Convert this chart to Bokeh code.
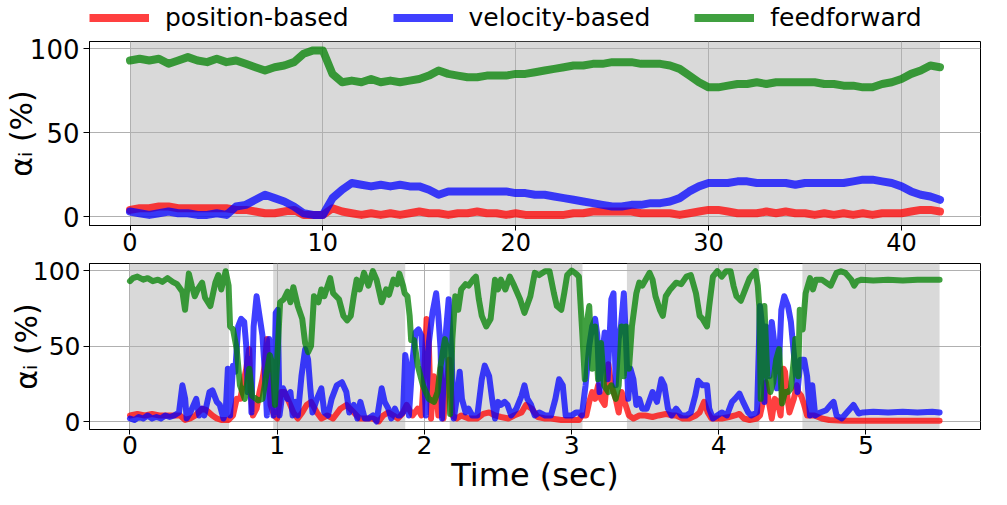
from bokeh.plotting import figure
from bokeh.layouts import column
from bokeh.models import FixedTicker, Range1d, Legend
from bokeh.embed import file_html
from bokeh.resources import INLINE

FONT = "DejaVu Sans"
RED, BLUE, GREEN = "#ff0000", "#0000ff", "#008000"
ALPHA = 0.75
SHADE = "#d9d9d9"
GRID = "#b0b0b0"

SERIES_NAMES = ["position-based", "velocity-based", "feedforward"]
Y_TICKS = [0, 50, 100]
TOP_X_TICKS = [0, 10, 20, 30, 40]
BOT_X_TICKS = [0, 1, 2, 3, 4, 5]
Y_LABEL = "\u03b1\u1d62 (%)"
X_LABEL = "Time (sec)"

# ---------------- top panel (long run, 0..42 s) ----------------
t_top = [0, 0.5, 1, 1.5, 2, 2.5, 3, 3.5, 4, 4.5,
         5, 5.5, 6, 6.5, 7, 7.5, 8, 8.5, 9, 9.5,
         10, 10.5, 11, 11.5, 12, 12.5, 13, 13.5, 14, 14.5,
         15, 15.5, 16, 16.5, 17, 17.5, 18, 18.5, 19, 19.5,
         20, 20.5, 21, 21.5, 22, 22.5, 23, 23.5, 24, 24.5,
         25, 25.5, 26, 26.5, 27, 27.5, 28, 28.5, 29, 29.5,
         30, 30.5, 31, 31.5, 32, 32.5, 33, 33.5, 34, 34.5,
         35, 35.5, 36, 36.5, 37, 37.5, 38, 38.5, 39, 39.5,
         40, 40.5, 41, 41.5, 42]
pos_top = [4, 5, 5, 6, 6, 5, 5, 5, 5, 5,
           5, 4, 4, 3, 2, 2, 3, 4, 1, 1,
           1, 5, 3, 2, 1, 2, 1, 2, 1, 2,
           3, 2, 2, 1, 2, 2, 3, 2, 2, 1,
           2, 1, 1, 1, 1, 1, 2, 2, 3, 3,
           3, 3, 3, 2, 2, 2, 2, 1, 2, 3,
           4, 4, 3, 2, 2, 2, 3, 2, 3, 2,
           2, 1, 2, 1, 2, 1, 2, 1, 2, 2,
           2, 3, 4, 4, 3]
vel_top = [3, 2, 1, 2, 3, 2, 2, 1, 1, 2,
           1, 6, 7, 10, 13, 11, 9, 6, 2, 1,
           1, 11, 16, 20, 19, 18, 19, 18, 19, 18,
           18, 16, 13, 15, 15, 15, 15, 15, 15, 15,
           14, 14, 13, 13, 12, 11, 10, 9, 8, 7,
           6, 6, 7, 7, 8, 8, 9, 11, 15, 18,
           20, 20, 20, 21, 21, 20, 20, 20, 20, 19,
           20, 20, 20, 20, 20, 21, 22, 22, 21, 20,
           18, 15, 13, 12, 10]
ff_top = [93, 94, 93, 94, 91, 93, 95, 93, 92, 94,
          92, 93, 91, 89, 87, 89, 90, 92, 97, 99,
          99, 85, 80, 81, 80, 82, 80, 81, 80, 81,
          82, 84, 87, 85, 84, 83, 83, 84, 84, 84,
          85, 85, 86, 87, 88, 89, 90, 90, 91, 91,
          92, 92, 92, 91, 91, 91, 90, 88, 84, 80,
          77, 77, 78, 79, 79, 80, 79, 80, 80, 80,
          80, 80, 79, 79, 78, 78, 77, 77, 79, 80,
          82, 85, 87, 90, 89]
top_shade_start = [0]
top_shade_end = [42]

# ---------------- bottom panel (short run, 0..5.5 s) ----------------
pos_bot_pts = [(0, 4), (0.05, 5), (0.10, 4), (0.15, 5), (0.20, 4), (0.25, 4), (0.31, 4), (0.34, 4),
               (0.375, 1), (0.41, 2), (0.445, 4), (0.49, 8.5), (0.52, 7.5), (0.56, 4), (0.59, 2),
               (0.62, 1), (0.67, 1), (0.70, 4), (0.725, 15), (0.75, 15), (0.77, 26), (0.79, 35),
               (0.81, 48), (0.82, 19.5), (0.835, 4), (0.86, 8.5), (0.88, 19.5), (0.90, 28),
               (0.915, 37), (0.93, 54.6), (0.94, 35), (0.955, 11), (0.98, 4), (1.0, 2),
               (1.025, 19.5), (1.05, 19.5), (1.08, 13), (1.11, 6), (1.14, 2), (1.17, 6), (1.20, 11),
               (1.23, 13), (1.27, 6), (1.30, 2), (1.34, 4), (1.38, 2), (1.43, 8.5), (1.47, 11),
               (1.52, 6), (1.56, 2), (1.61, 2), (1.65, 2), (1.69, 0), (1.72, 4), (1.755, 6),
               (1.79, 4), (1.82, 2), (1.85, 5), (1.88, 11), (1.92, 4), (1.955, 8.5), (1.98, 4),
               (2.0, 35), (2.015, 68), (2.03, 52), (2.045, 2), (2.065, 30), (2.08, 19.5),
               (2.095, 4), (2.11, 35), (2.13, 2), (2.15, 24), (2.17, 41), (2.19, 4), (2.22, 2),
               (2.25, 4), (2.30, 2), (2.36, 2), (2.40, 5), (2.44, 6), (2.48, 4), (2.52, 3),
               (2.57, 2), (2.61, 4), (2.66, 6), (2.69, 11), (2.73, 8.5), (2.77, 3), (2.82, 2),
               (2.86, 2), (2.93, 1), (3.0, 1), (3.05, 1), (3.07, 4), (3.10, 4), (3.12, 13),
               (3.14, 19.5), (3.16, 15), (3.18, 24), (3.20, 15), (3.225, 11), (3.25, 38),
               (3.27, 24), (3.30, 15), (3.32, 6), (3.34, 19.5), (3.36, 13), (3.39, 4), (3.42, 2),
               (3.46, 4), (3.50, 4), (3.55, 3), (3.59, 4), (3.64, 5), (3.68, 4), (3.71, 4),
               (3.755, 2), (3.80, 2), (3.845, 4), (3.87, 6), (3.90, 13), (3.925, 6), (3.95, 2),
               (3.98, 2), (4.02, 2), (4.07, 3), (4.11, 4), (4.14, 5), (4.17, 2), (4.21, 1),
               (4.26, 2), (4.28, 4), (4.30, 13), (4.32, 26), (4.34, 13), (4.36, 2), (4.38, 15),
               (4.40, 13), (4.42, 4), (4.44, 35), (4.45, 33), (4.47, 13), (4.48, 6), (4.51, 15),
               (4.53, 24), (4.54, 19.5), (4.56, 17), (4.58, 11), (4.60, 4), (4.65, 4), (4.70, 2),
               (4.75, 1), (4.85, 0.5), (5.0, 0.5), (5.2, 0.5), (5.4, 0.5), (5.5, 0.5)]

vel_bot_pts = [(0, 2), (0.03, 1), (0.06, 3), (0.09, 2), (0.12, 4), (0.15, 2), (0.18, 3), (0.21, 2),
               (0.24, 4), (0.27, 3), (0.30, 4), (0.333, 6), (0.356, 24), (0.375, 15), (0.385, 2),
               (0.41, 6), (0.45, 15), (0.47, 4), (0.49, 8.5), (0.505, 4), (0.54, 19.5),
               (0.56, 20.6), (0.59, 13), (0.61, 11), (0.635, 2), (0.65, 6), (0.665, 35), (0.68, 4),
               (0.70, 37), (0.715, 33), (0.735, 63), (0.755, 68), (0.776, 66), (0.79, 50),
               (0.80, 19.5), (0.815, 41), (0.825, 6), (0.84, 63), (0.86, 83), (0.88, 70),
               (0.90, 57), (0.915, 35), (0.93, 4), (0.945, 54.6), (0.96, 30), (0.975, 4),
               (0.99, 72), (1.004, 74), (1.016, 4), (1.04, 22), (1.07, 15), (1.09, 19.5),
               (1.105, 4), (1.125, 13), (1.14, 4), (1.165, 30), (1.19, 48), (1.21, 41),
               (1.225, 22), (1.24, 6), (1.27, 15), (1.30, 22), (1.32, 6), (1.345, 4), (1.37, 15),
               (1.405, 24), (1.44, 26), (1.47, 19.5), (1.49, 6), (1.52, 11), (1.545, 2),
               (1.565, 13), (1.595, 2), (1.62, 2), (1.65, 4), (1.675, 0), (1.71, 22), (1.73, 13),
               (1.755, 8.5), (1.775, 2), (1.80, 8.5), (1.82, 4), (1.835, 4), (1.855, 6),
               (1.87, 44), (1.885, 35), (1.895, 4), (1.92, 41), (1.94, 59), (1.96, 61), (1.98, 57),
               (2.0, 26), (2.01, 4), (2.03, 52), (2.055, 72), (2.08, 85), (2.095, 70), (2.11, 48),
               (2.12, 2), (2.14, 52), (2.165, 81), (2.185, 41), (2.20, 2), (2.22, 15), (2.24, 33),
               (2.255, 15), (2.28, 6), (2.30, 8.5), (2.325, 4), (2.36, 4), (2.39, 28), (2.41, 37),
               (2.44, 30), (2.46, 15), (2.48, 2), (2.50, 13), (2.52, 11), (2.545, 13),
               (2.565, 11), (2.59, 4), (2.625, 8.5), (2.66, 17), (2.68, 24), (2.70, 15),
               (2.725, 11), (2.75, 4), (2.78, 6), (2.82, 4), (2.86, 4), (2.89, 15), (2.915, 28),
               (2.94, 24), (2.96, 4), (3.0, 4), (3.03, 6), (3.05, 6), (3.07, 4), (3.095, 24),
               (3.12, 50), (3.14, 63), (3.16, 68), (3.175, 57), (3.19, 19.5), (3.21, 46),
               (3.225, 59), (3.245, 28), (3.27, 81), (3.285, 85), (3.30, 24), (3.32, 54.6),
               (3.335, 63), (3.355, 85), (3.37, 52), (3.385, 15), (3.40, 35), (3.42, 28),
               (3.44, 11), (3.46, 15), (3.48, 8.5), (3.51, 8.5), (3.55, 19.5), (3.58, 13),
               (3.61, 28), (3.63, 24), (3.655, 8.5), (3.68, 4), (3.71, 8.5), (3.745, 4), (3.78, 4),
               (3.81, 6), (3.84, 17), (3.86, 27), (3.89, 24), (3.92, 24), (3.935, 8.5), (3.96, 2),
               (3.99, 4), (4.02, 6), (4.055, 4), (4.09, 13), (4.11, 15), (4.14, 18.5), (4.165, 13),
               (4.20, 6), (4.22, 4), (4.26, 6), (4.28, 76.5), (4.295, 63), (4.31, 13), (4.32, 63),
               (4.345, 30), (4.36, 66), (4.38, 50), (4.395, 22), (4.41, 41), (4.425, 74),
               (4.445, 83), (4.47, 76.5), (4.49, 66), (4.505, 50), (4.52, 35), (4.535, 19.5),
               (4.555, 41), (4.58, 41), (4.60, 30), (4.62, 4), (4.635, 24), (4.655, 4), (4.69, 6),
               (4.73, 7.5), (4.76, 11), (4.78, 13), (4.80, 4), (4.835, 2), (4.87, 6), (4.915, 11),
               (4.95, 5.3), (4.98, 6), (5.05, 6.5), (5.15, 6), (5.25, 6.5), (5.35, 6), (5.45, 6.5),
               (5.5, 6)]

ff_bot_pts = [(0, 93), (0.02, 95), (0.05, 96), (0.09, 94), (0.12, 95), (0.155, 93), (0.19, 94),
              (0.22, 92.5), (0.255, 95), (0.29, 92.5), (0.32, 91), (0.356, 86), (0.374, 74),
              (0.40, 98), (0.42, 90), (0.44, 83), (0.46, 87.5), (0.49, 92), (0.51, 82),
              (0.546, 76.5), (0.58, 92), (0.60, 97), (0.62, 87.5), (0.65, 99.6), (0.67, 90),
              (0.68, 63), (0.70, 61), (0.725, 48), (0.747, 24), (0.78, 15), (0.81, 35), (0.83, 17),
              (0.87, 14), (0.90, 15), (0.925, 30), (0.95, 44), (0.97, 37), (0.985, 11), (1.0, 41),
              (1.02, 79), (1.045, 81), (1.07, 86), (1.09, 79), (1.11, 89), (1.14, 76.5),
              (1.17, 68), (1.19, 52), (1.21, 46), (1.23, 50), (1.25, 83), (1.28, 79), (1.30, 87.5),
              (1.32, 83), (1.36, 95), (1.38, 85), (1.42, 81), (1.45, 70), (1.475, 67), (1.50, 70),
              (1.52, 83), (1.54, 94), (1.56, 87.5), (1.59, 98.5), (1.62, 90), (1.65, 99.6),
              (1.675, 94), (1.71, 79), (1.74, 87.5), (1.76, 84), (1.79, 94), (1.815, 91),
              (1.83, 98), (1.855, 90), (1.866, 85), (1.885, 83), (1.90, 70), (1.91, 54),
              (1.93, 54), (1.955, 37), (1.99, 24), (2.03, 15), (2.066, 13), (2.09, 19.5),
              (2.11, 37), (2.14, 54.6), (2.16, 46), (2.175, 5), (2.19, 54.6), (2.21, 83),
              (2.23, 74), (2.25, 87.5), (2.28, 91), (2.30, 90), (2.33, 94), (2.35, 96), (2.37, 81),
              (2.39, 70), (2.42, 63), (2.45, 68), (2.48, 94), (2.50, 87.5), (2.52, 94),
              (2.55, 87.5), (2.58, 96), (2.61, 90), (2.65, 81), (2.68, 72), (2.72, 83),
              (2.75, 98.5), (2.78, 97), (2.82, 99.6), (2.85, 99.6), (2.88, 85), (2.90, 76.5),
              (2.93, 74), (2.95, 85), (2.97, 97), (3.0, 100), (3.03, 98), (3.05, 96), (3.07, 63),
              (3.08, 46), (3.09, 28), (3.10, 63), (3.12, 76.5), (3.14, 35), (3.16, 63), (3.18, 28),
              (3.20, 52), (3.22, 24), (3.25, 19.5), (3.27, 24), (3.30, 15), (3.32, 24), (3.34, 63),
              (3.355, 30), (3.37, 63), (3.39, 35), (3.41, 63), (3.44, 85), (3.46, 92), (3.48, 90),
              (3.53, 98.5), (3.55, 94), (3.57, 83), (3.60, 74), (3.62, 70), (3.64, 83),
              (3.67, 87.5), (3.71, 92), (3.745, 91), (3.78, 96), (3.81, 97), (3.845, 85),
              (3.87, 70), (3.89, 68), (3.92, 63), (3.935, 76.5), (3.96, 96), (3.99, 99.6),
              (4.02, 96), (4.05, 99.6), (4.08, 99.6), (4.10, 90), (4.12, 83), (4.15, 80),
              (4.18, 87.5), (4.21, 95), (4.25, 99.6), (4.265, 90), (4.275, 76.5), (4.285, 15),
              (4.31, 76.5), (4.33, 30), (4.35, 19.5), (4.37, 26), (4.39, 41), (4.41, 48),
              (4.43, 12), (4.45, 19.5), (4.47, 19.5), (4.49, 22), (4.51, 41), (4.52, 54.6),
              (4.54, 30), (4.55, 74), (4.57, 61), (4.59, 85), (4.62, 95), (4.64, 87.5), (4.66, 94),
              (4.70, 94), (4.73, 92), (4.76, 90), (4.80, 98.5), (4.83, 99.6), (4.86, 98.5),
              (4.90, 94), (4.92, 90), (4.94, 93), (4.97, 94), (5.05, 93.5), (5.15, 94),
              (5.25, 93.5), (5.35, 94), (5.45, 94), (5.5, 94)]

bot_shade_start = [0, 0.973, 2.172, 3.376, 4.568]
bot_shade_end = [0.673, 1.87, 3.074, 4.275, 5.5]

t_pos_bot = [a for a, _ in pos_bot_pts]
pos_bot = [b for _, b in pos_bot_pts]
t_vel_bot = [a for a, _ in vel_bot_pts]
vel_bot = [b for _, b in vel_bot_pts]
t_ff_bot = [a for a, _ in ff_bot_pts]
ff_bot = [b for _, b in ff_bot_pts]


def make_fig(xr, yr, xticks, fw, fh, left, right, top, bottom):
    p = figure(x_range=Range1d(*xr), y_range=Range1d(*yr),
               width=left + fw + right, height=top + fh + bottom,
               min_border_left=left, min_border_right=right,
               min_border_top=top, min_border_bottom=bottom,
               output_backend="svg", toolbar_location=None)
    p.background_fill_color = "white"
    p.border_fill_color = "white"
    p.outline_line_color = "black"
    p.outline_line_alpha = 1
    p.outline_line_width = 1
    p.xaxis.ticker = FixedTicker(ticks=xticks)
    p.yaxis.ticker = FixedTicker(ticks=Y_TICKS)
    p.xgrid.ticker = FixedTicker(ticks=xticks)
    p.ygrid.ticker = FixedTicker(ticks=Y_TICKS)
    for g in (p.xgrid[0], p.ygrid[0]):
        g.grid_line_color = GRID
        g.grid_line_width = 1
        g.grid_line_alpha = 1
    for ax in (p.xaxis[0], p.yaxis[0]):
        ax.axis_line_color = "black"
        ax.major_tick_line_color = "black"
        ax.major_tick_in = 0
        ax.minor_tick_line_color = None
        ax.major_label_text_font = FONT
        ax.major_label_text_color = "black"
        ax.axis_label_text_font = FONT
        ax.axis_label_text_color = "black"
        ax.axis_label_text_font_style = "normal"
    return p


def draw(p, starts, ends, yr, series, width):
    p.quad(left=starts, right=ends, bottom=yr[0], top=yr[1],
           fill_color=SHADE, line_color=None, level="image")
    rs = []
    for (tt, vv), col in zip(series, [RED, BLUE, GREEN]):
        rs.append(p.line(tt, vv, line_color=col, line_alpha=ALPHA, line_width=width,
                         line_join="round", line_cap="round"))
    return rs


# ---------- legend strip (its own small canvas above the top panel) ----------
LEG_H = 34
pl = figure(width=991, height=LEG_H, x_range=Range1d(0, 1), y_range=Range1d(0, 1),
            x_axis_location=None, y_axis_location=None,
            min_border_left=87, min_border_right=0, min_border_top=0, min_border_bottom=0,
            output_backend="svg", toolbar_location=None)
pl.grid.visible = False
pl.outline_line_color = None
pl.background_fill_color = "white"
pl.border_fill_color = "white"
NAN = float("nan")
leg_renderers = [pl.line([NAN], [NAN], line_color=c, line_alpha=ALPHA, line_width=8)
                 for c in (RED, BLUE, GREEN)]
legend = Legend(items=[(n, [r]) for n, r in zip(SERIES_NAMES, leg_renderers)],
                orientation="horizontal", location="left", margin=0, padding=2,
                spacing=44, glyph_width=60, glyph_height=20, label_standoff=16,
                label_height=25, label_text_font=FONT, label_text_font_size="25px",
                label_text_color="black", background_fill_color="white",
                background_fill_alpha=1, border_line_color=None)
pl.add_layout(legend)

# ---------- top ----------
FH_TOP = 184
yr_top = (-5.3, 104.3)
p1 = make_fig((-2.1, 44.1), yr_top, TOP_X_TICKS, 897, FH_TOP, 83, 11, 41 - LEG_H, 35)
draw(p1, top_shade_start, top_shade_end, yr_top,
     [(t_top, pos_top), (t_top, vel_top), (t_top, ff_top)], 8)
ya = p1.yaxis[0]
ya.axis_label = Y_LABEL
ya.axis_label_text_font_size = "30px"
ya.axis_label_standoff = -12
ya.major_label_text_font_size = "26px"
ya.major_tick_out = 6
ya.major_label_standoff = 4
xa = p1.xaxis[0]
xa.major_label_text_font_size = "24px"
xa.major_tick_out = 5
xa.major_label_standoff = 2

# ---------- bottom ----------
yr_bot = (-5.3, 104.7)
p2 = make_fig((-0.275, 5.778), yr_bot, BOT_X_TICKS, 902, 166, 78, 11, 3, 71)
draw(p2, bot_shade_start, bot_shade_end, yr_bot,
     [(t_pos_bot, pos_bot), (t_vel_bot, vel_bot), (t_ff_bot, ff_bot)], 6)
ya2 = p2.yaxis[0]
ya2.axis_label = Y_LABEL
ya2.axis_label_text_font_size = "30px"
ya2.axis_label_standoff = -14
ya2.major_label_text_font_size = "25px"
ya2.major_tick_out = 6
ya2.major_label_standoff = 3
xa2 = p2.xaxis[0]
xa2.axis_label = X_LABEL
xa2.axis_label_text_font_size = "32px"
xa2.axis_label_standoff = -1
xa2.major_label_text_font_size = "25px"
xa2.major_tick_out = 5
xa2.major_label_standoff = 1

layout = column(pl, p1, p2, spacing=0)
open("out.html", "w").write(file_html(layout, INLINE))
